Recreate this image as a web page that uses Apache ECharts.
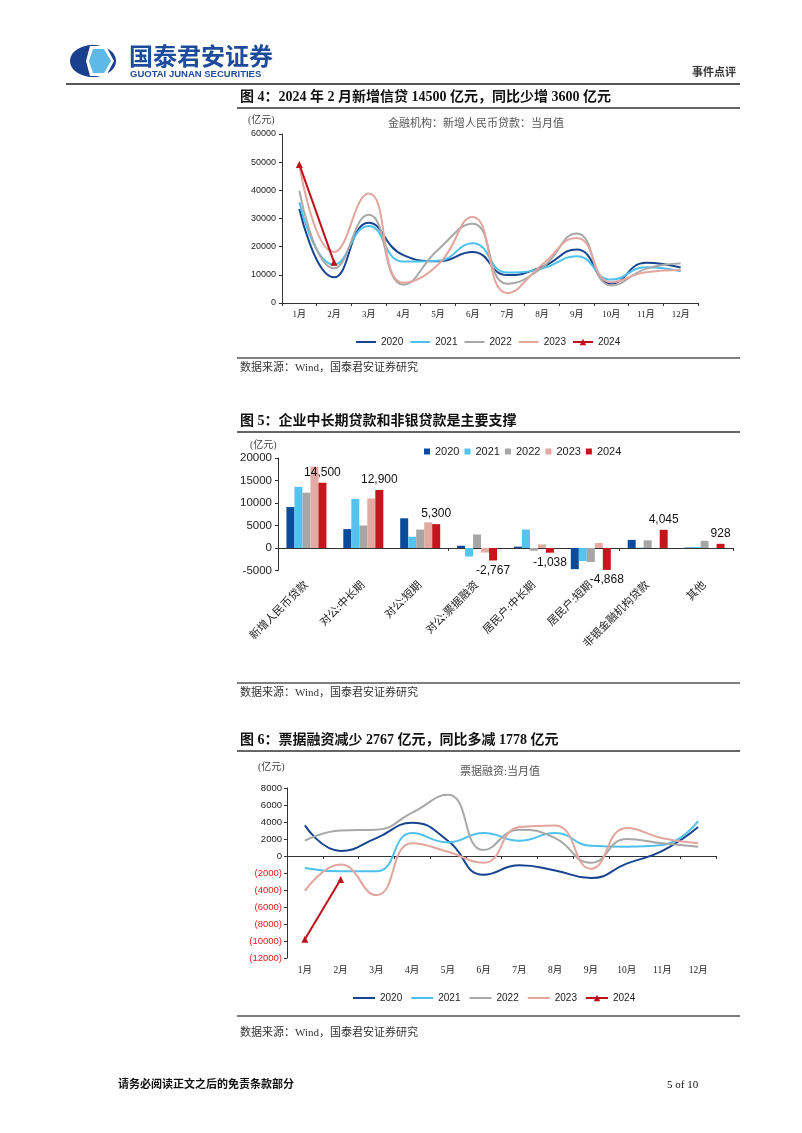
<!DOCTYPE html>
<html><head><meta charset="utf-8">
<script src="https://cdn.jsdelivr.net/npm/echarts@6/dist/echarts.min.js"></script>
<style>html,body{margin:0;padding:0;background:#fff}#c{width:802px;height:1133px}</style>
</head><body><div id="c"></div>
<script>
// ---------- data ----------
const years = ['2020','2021','2022','2023','2024'];
const months = ['1月','2月','3月','4月','5月','6月','7月','8月','9月','10月','11月','12月'];
// Fig 4: new RMB loans, monthly (亿元)
const newLoans2020 = [33400, 9100, 28500, 17000, 14800, 18100, 9900, 12800, 19000, 6900, 14300, 12600];
const newLoans2021 = [35800, 13600, 27300, 14700, 15000, 21200, 10800, 12200, 16600, 8300, 12700, 11300];
const newLoans2022 = [39800, 12300, 31300, 6500, 18900, 28100, 6800, 12500, 24700, 6200, 12100, 14000];
const newLoans2023 = [49000, 18100, 38900, 7200, 13600, 30500, 3500, 13600, 23100, 7400, 10900, 11700];
const newLoans2024 = [49200, 14500];
// Fig 5: loan structure, February (亿元)
const loanCats = ['新增人民币贷款','对公:中长期','对公:短期','对公:票据融资','居民户:中长期','居民户:短期','非银金融机构贷款','其他'];
const struct2020 = [9100, 4200, 6600, 500, 300, -4700, 1800, 100];
const struct2021 = [13600, 10900, 2500, -1900, 4100, -2900, 100, 200];
const struct2022 = [12300, 5000, 4100, 3000, -600, -3100, 1700, 1600];
const struct2023 = [18100, 11000, 5700, -1000, 800, 1100, 0, 0];
const struct2024 = [14500, 12900, 5300, -2767, -1038, -4868, 4045, 928];
// Fig 6: bill financing, monthly (亿元)
const bill2020 = [3600, 600, 2100, 3900, 1800, -2200, -1100, -1700, -2600, -900, 600, 3400];
const bill2021 = [-1400, -1800, -1800, 2700, 1600, 2700, 1800, 2700, 1200, 1100, 1300, 4100];
const bill2022 = [1800, 3000, 3100, 5100, 7200, 700, 3100, 2100, -800, 2000, 1500, 1100];
const bill2023 = [-4100, -1000, -4600, 1500, 500, -800, 3400, 3600, -1500, 3300, 2100, 1500];
const bill2024 = [-9785, -2767];

// ---------- styles ----------
const SANS = "'Liberation Sans','Noto Sans CJK SC',sans-serif";
const SERIF = "'Liberation Serif','Noto Sans CJK SC',serif";
const lineColors = ['#18438f', '#4fc1ee', '#a8a8a8', '#e3a69f', '#c0101a'];
const barColors = ['#0c4b9b', '#55c3f0', '#a6a6a6', '#e2aaa3', '#c4161c'];

function T(x, y, text, o) {
  o = o || {};
  return { type: 'text', x: x, y: y, z: 10, style: {
    text: text, fill: o.fill || '#222', font: o.font || ('11px ' + SERIF),
    textAlign: o.align || 'left', textVerticalAlign: 'middle' } };
}
function L(x1, y1, x2, y2, w, c) {
  return { type: 'line', z: 10, shape: { x1: x1, y1: y1, x2: x2, y2: y2 },
    style: { stroke: c || '#333', lineWidth: w || 1 } };
}

const graphics = [
  // logo
  { type: 'ellipse', shape: { cx: 93, cy: 61, rx: 23, ry: 16 }, style: { fill: '#1b3f8f' } },
  { type: 'polygon', shape: { points: [[90,46],[106,46],[114,61],[106,76],[90,76],[86,61]] }, style: { fill: '#ffffff' } },
  { type: 'polygon', shape: { points: [[93,49],[104,49],[111,61],[104,73],[93,73],[89,61]] }, style: { fill: '#5db9e8' } },
  T(129, 58, '国泰君安证券', { font: 'bold 24px ' + SANS, fill: '#1e4b9b' }),
  T(130, 74, 'GUOTAI JUNAN SECURITIES', { font: 'bold 9.5px ' + SANS, fill: '#1e4b9b' }),
  T(736, 73, '事件点评', { font: 'bold 11px ' + SERIF, fill: '#333', align: 'right' }),
  L(66, 84, 740, 84, 2, '#555'),
  // fig 4
  T(240, 97, '图 4：2024 年 2 月新增信贷 14500 亿元，同比少增 3600 亿元', { font: 'bold 14px ' + SERIF, fill: '#111' }),
  L(237, 108, 740, 108, 1.5, '#333'),
  T(248, 120, '(亿元)', { font: '10px ' + SERIF, fill: '#444' }),
  T(476, 124, '金融机构：新增人民币贷款：当月值', { font: '11px ' + SERIF, fill: '#555', align: 'center' }),
  L(237, 358, 740, 358, 1.5, '#555'),
  T(240, 368, '数据来源：Wind，国泰君安证券研究', { font: '11px ' + SERIF, fill: '#333' }),
  // fig 5
  T(240, 421, '图 5：企业中长期贷款和非银贷款是主要支撑', { font: 'bold 14px ' + SERIF, fill: '#111' }),
  L(237, 432, 740, 432, 1.5, '#333'),
  T(250, 445, '(亿元)', { font: '10px ' + SERIF, fill: '#444' }),
  L(237, 683, 740, 683, 1.5, '#555'),
  T(240, 693, '数据来源：Wind，国泰君安证券研究', { font: '11px ' + SERIF, fill: '#333' }),
  // fig 6
  T(240, 740, '图 6：票据融资减少 2767 亿元，同比多减 1778 亿元', { font: 'bold 14px ' + SERIF, fill: '#111' }),
  L(237, 751, 740, 751, 1.5, '#333'),
  T(258, 767, '(亿元)', { font: '10px ' + SERIF, fill: '#444' }),
  T(500, 772, '票据融资:当月值', { font: '11px ' + SERIF, fill: '#555', align: 'center' }),
  L(237, 1016, 740, 1016, 1.5, '#555'),
  T(240, 1033, '数据来源：Wind，国泰君安证券研究', { font: '11px ' + SERIF, fill: '#333' }),
  // footer
  T(118, 1085, '请务必阅读正文之后的免责条款部分', { font: 'bold 11px ' + SERIF, fill: '#111' }),
  T(667, 1085, '5 of 10', { font: '11px ' + SERIF, fill: '#111' })
];

const axisLineStyle = { lineStyle: { color: '#333', width: 1 } };
const tickStyle = { show: true, length: 3, lineStyle: { color: '#333' } };

function lineSeries(name, data, xi, yi, idx) {
  return { name: name, type: 'line', xAxisIndex: xi, yAxisIndex: yi, data: data,
    smooth: 0.5, symbol: 'none', lineStyle: { width: 2, color: lineColors[idx] },
    itemStyle: { color: lineColors[idx] }, z: 2 + idx };
}
function redSeries(name, data, xi, yi) {
  return { name: name, type: 'line', xAxisIndex: xi, yAxisIndex: yi, data: data,
    smooth: false, symbol: 'triangle', symbolSize: 7, showSymbol: true,
    lineStyle: { width: 2, color: lineColors[4] }, itemStyle: { color: lineColors[4] }, z: 10 };
}
function barSeries(name, data, idx, labelled) {
  const s = { name: name, type: 'bar', xAxisIndex: 1, yAxisIndex: 1, barWidth: 8, barGap: '0%',
    itemStyle: { color: barColors[idx] }, data: data };
  if (labelled) {
    s.data = data.map(v => ({ value: v, label: { position: v < 0 ? 'bottom' : 'top' } }));
    s.label = { show: true, distance: 4, color: '#111', fontSize: 12, fontFamily: SANS,
      formatter: p => Number(p.value).toLocaleString('en-US') };
  }
  return s;
}
function lineLegendData(suffix) {
  return years.map(n => n === '2024' ? { name: n + suffix } : { name: n + suffix, itemStyle: { opacity: 0 } });
}

const option = {
  backgroundColor: '#ffffff',
  animation: false,
  graphic: graphics,
  grid: [
    { left: 282, top: 134, width: 416, height: 169, outerBoundsMode: 'none' },
    { left: 278, top: 458, width: 455, height: 112.5, outerBoundsMode: 'none' },
    { left: 287, top: 788, width: 429, height: 170, outerBoundsMode: 'none' }
  ],
  legend: [
    { data: lineLegendData(''), left: 355, top: 337, padding: 0, itemWidth: 20, itemHeight: 8, itemGap: 6,
      formatter: n => n.trim(), textStyle: { fontSize: 10, fontFamily: SANS, color: '#222' } },
    { data: years.map(n => ({ name: n + ' ' })), left: 424, top: 446, padding: 0, icon: 'rect', itemWidth: 6, itemHeight: 6, itemGap: 5,
      formatter: n => n.trim(), textStyle: { fontSize: 11, fontFamily: SANS, color: '#222' } },
    { data: lineLegendData('  '), left: 352, top: 993, padding: 0, itemWidth: 22, itemHeight: 8, itemGap: 8,
      formatter: n => n.trim(), textStyle: { fontSize: 10, fontFamily: SANS, color: '#222' } }
  ],
  xAxis: [
    { gridIndex: 0, type: 'category', data: months, axisLine: axisLineStyle, axisTick: tickStyle,
      axisLabel: { fontSize: 9, fontFamily: SERIF, color: '#222', margin: 7 } },
    // fig5 labels axis (bottom)
    { gridIndex: 1, type: 'category', data: loanCats, position: 'bottom',
      axisLine: { show: false, onZero: false }, axisTick: { show: false },
      axisLabel: { rotate: 45, fontSize: 11, fontFamily: SERIF, color: '#222', margin: 13, interval: 0 } },
    // fig5 zero line axis
    { gridIndex: 1, type: 'category', data: loanCats, position: 'bottom',
      axisLine: { show: true, onZero: true, lineStyle: { color: '#333' } }, axisTick: tickStyle,
      axisLabel: { show: false } },
    // fig6 labels axis (bottom)
    { gridIndex: 2, type: 'category', data: months, position: 'bottom',
      axisLine: { show: false, onZero: false }, axisTick: { show: false },
      axisLabel: { fontSize: 9.5, fontFamily: SERIF, color: '#222', margin: 8 } },
    // fig6 zero line axis
    { gridIndex: 2, type: 'category', data: months, position: 'bottom',
      axisLine: { show: true, onZero: true, lineStyle: { color: '#333' } }, axisTick: tickStyle,
      axisLabel: { show: false } }
  ],
  yAxis: [
    { gridIndex: 0, type: 'value', min: 0, max: 60000, interval: 10000,
      axisLine: { show: true, lineStyle: { color: '#333' } }, axisTick: tickStyle, splitLine: { show: false },
      axisLabel: { fontSize: 9, fontFamily: SANS, color: '#222', margin: 6, formatter: v => String(v) } },
    { gridIndex: 1, type: 'value', min: -5000, max: 20000, interval: 5000,
      axisLine: { show: true, lineStyle: { color: '#333' } }, axisTick: tickStyle, splitLine: { show: false },
      axisLabel: { fontSize: 11.5, fontFamily: SANS, color: '#222', margin: 6, formatter: v => String(v) } },
    { gridIndex: 2, type: 'value', min: -12000, max: 8000, interval: 2000,
      axisLine: { show: true, lineStyle: { color: '#333' } }, axisTick: tickStyle, splitLine: { show: false },
      axisLabel: { fontSize: 9.5, fontFamily: SANS, margin: 5,
        formatter: v => v < 0 ? '{r|(' + (-v) + ')}' : '{b|' + v + '}',
        rich: { r: { color: '#e0201a', fontSize: 9.5, fontFamily: SANS }, b: { color: '#222', fontSize: 9.5, fontFamily: SANS } } } }
  ],
  series: [
    lineSeries('2020', newLoans2020, 0, 0, 0),
    lineSeries('2021', newLoans2021, 0, 0, 1),
    lineSeries('2022', newLoans2022, 0, 0, 2),
    lineSeries('2023', newLoans2023, 0, 0, 3),
    redSeries('2024', newLoans2024, 0, 0),
    barSeries('2020 ', struct2020, 0, false),
    barSeries('2021 ', struct2021, 1, false),
    barSeries('2022 ', struct2022, 2, false),
    barSeries('2023 ', struct2023, 3, false),
    barSeries('2024 ', struct2024, 4, true),
    lineSeries('2020  ', bill2020, 3, 2, 0),
    lineSeries('2021  ', bill2021, 3, 2, 1),
    lineSeries('2022  ', bill2022, 3, 2, 2),
    lineSeries('2023  ', bill2023, 3, 2, 3),
    redSeries('2024  ', bill2024, 3, 2)
  ]
};
const chart = echarts.init(document.getElementById('c'), null, { renderer: 'canvas' });
chart.setOption(option);
</script>
</body></html>
